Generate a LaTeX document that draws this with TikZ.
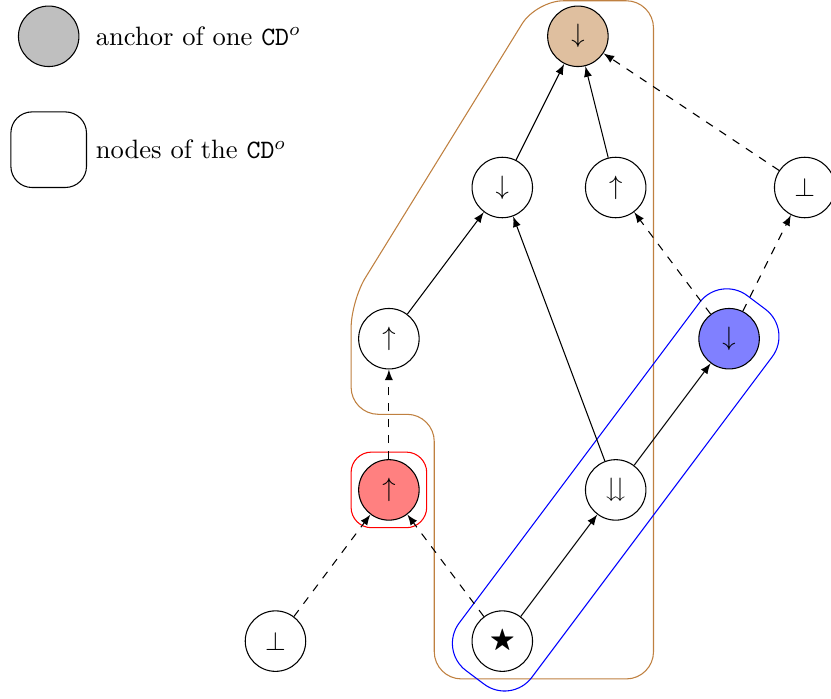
\documentclass[tikz,border=0pt]{standalone}
\usepackage{amssymb}
\usetikzlibrary{arrows}
\begin{document}
\begin{tikzpicture}[
  st/.style={circle,draw,minimum size=0.8cm,inner sep=0pt},
  sol/.style={-latex},
  dsh/.style={-latex,dashed},
  lbl/.style={right,inner sep=3.33pt}]
\useasboundingbox (-3.644,-8.757) rectangle (7.348,0.48);
% brown region
\draw[brown,rounded corners=0.36cm] (4.2,0.47) -- (5,0.47) -- (5,-8.5) -- (2.1,-8.5) -- (2.1,-5) -- (1,-5) -- (1,-3.5) -- (3.45,0.47) -- cycle;
% nodes
\node[st,fill=brown!50] (A) at (4,0) {$\downarrow$};
\node[st] (B) at (3,-2) {$\downarrow$};
\node[st] (C) at (4.5,-2) {$\uparrow$};
\node[st] (D) at (7,-2) {$\perp$};
\node[st] (E) at (1.5,-4) {$\uparrow$};
\node[st,fill=blue!50] (F) at (6,-4) {$\downarrow$};
\node[st,fill=red!50] (G) at (1.5,-6) {$\uparrow$};
\node[st] (H) at (4.5,-6) {$\downdownarrows$};
\node[st] (I) at (0,-8) {$\perp$};
\node[st] (J) at (3,-8) {$\bigstar$};
% blue region
\begin{scope}[shift={(H)},rotate=53.13]
  \draw[blue,rounded corners=0.45cm] (-3.1,-0.6) rectangle (3.1,0.6);
\end{scope}
% red region
\draw[red,rounded corners=0.27cm] ([shift={(-0.5,-0.5)}]G.center) rectangle ([shift={(0.5,0.5)}]G.center);
% edges
\draw[sol] (B) -- (A);
\draw[sol] (C) -- (A);
\draw[dsh] (D) -- (A);
\draw[sol] (E) -- (B);
\draw[sol] (H) -- (B);
\draw[dsh] (F) -- (C);
\draw[dsh] (F) -- (D);
\draw[dsh] (G) -- (E);
\draw[sol] (H) -- (F);
\draw[dsh] (I) -- (G);
\draw[dsh] (J) -- (G);
\draw[sol] (J) -- (H);
% legend
\node[st,fill=gray!50] (L1) at (-3,0) {};
\node[draw,rounded corners=0.28cm,minimum size=1cm,inner sep=0pt] (L2) at (-3,-1.5) {};
\node[lbl] (T1) at (-2.5,0) {anchor of one \texttt{CD}$^o$};
\node[lbl] (T2) at (-2.5,-1.5) {nodes of the \texttt{CD}$^o$};
\end{tikzpicture}
\end{document}
